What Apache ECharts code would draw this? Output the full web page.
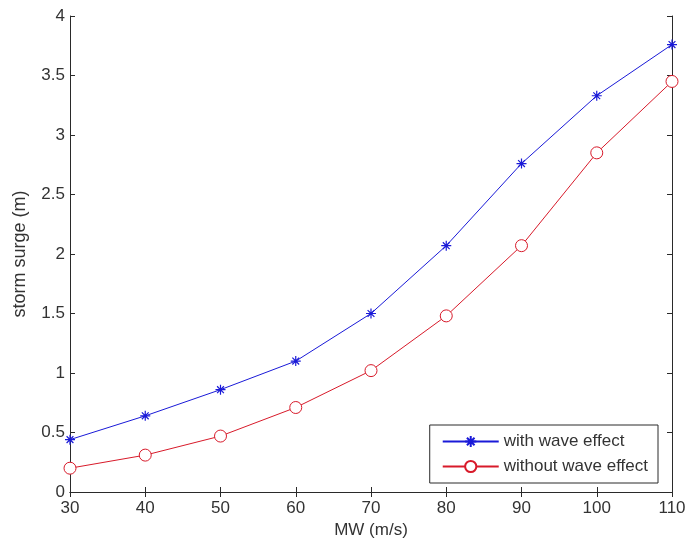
<!DOCTYPE html>
<html><head><meta charset="utf-8">
<script src="https://cdn.jsdelivr.net/npm/echarts@6/dist/echarts.min.js"></script>
<style>html,body{margin:0;padding:0;background:#fff}#c{width:689px;height:548px}</style>
</head><body><div id="c"></div>
<script>
const windSpeeds = [30, 40, 50, 60, 70, 80, 90, 100, 110];
const withWave = [0.44, 0.64, 0.86, 1.10, 1.50, 2.07, 2.76, 3.33, 3.76];
const withoutWave = [0.20, 0.31, 0.47, 0.71, 1.02, 1.48, 2.07, 2.85, 3.45];
const seriesNames = ['with wave effect', 'without wave effect'];
const xTitle = 'MW (m/s)';
const yTitle = 'storm surge (m)';

const font = 'Liberation Sans, Arial, sans-serif';
const axisCol = '#2a2a2a';
const textCol = '#333';
const blue = '#1a1ad8';
const red = '#d81a2a';
const star = 'path://M0,5L10,5M5,0L5,10M1.6,1.6L8.4,8.4M8.4,1.6L1.6,8.4';
const ring = 'path://M10,5A5,5 0 1 1 0,5A5,5 0 1 1 10,5Z';
const chart = echarts.init(document.getElementById('c'));
const tickCommon = {show: true, inside: true, length: 5, lineStyle: {color: axisCol}};
chart.setOption({
  backgroundColor: '#fff',
  animation: false,
  grid: {left: 70, right: 17, top: 16, bottom: 56, show: false},
  legend: {
    show: true,
    right: 31, bottom: 65,
    orient: 'vertical',
    backgroundColor: '#fff',
    borderColor: axisCol, borderWidth: 1, borderRadius: 0,
    padding: [8, 10, 8, 12],
    itemGap: 8,
    itemWidth: 56, itemHeight: 14,
    textStyle: {fontFamily: font, fontSize: 17, color: textCol},
    data: seriesNames
  },
  xAxis: [{
    type: 'value', min: 30, max: 110, interval: 10,
    name: xTitle, nameLocation: 'middle', nameGap: 30,
    nameTextStyle: {fontFamily: font, fontSize: 17, color: textCol},
    axisLine: {show: true, onZero: false, lineStyle: {color: axisCol}},
    axisTick: tickCommon,
    axisLabel: {fontFamily: font, fontSize: 17, color: textCol, margin: 8},
    splitLine: {show: false}
  }, {
    type: 'value', min: 30, max: 110, interval: 10, position: 'top',
    axisLine: {show: true, lineStyle: {color: axisCol}},
    axisTick: tickCommon, axisLabel: {show: false}, splitLine: {show: false}
  }],
  yAxis: [{
    type: 'value', min: 0, max: 4, interval: 0.5,
    name: yTitle, nameLocation: 'middle', nameGap: 41, nameRotate: 90,
    nameTextStyle: {fontFamily: font, fontSize: 18, color: textCol},
    axisLine: {show: true, onZero: false, lineStyle: {color: axisCol}},
    axisTick: tickCommon,
    axisLabel: {fontFamily: font, fontSize: 17, color: textCol, margin: 5},
    splitLine: {show: false}
  }, {
    type: 'value', min: 0, max: 4, interval: 0.5, position: 'right',
    axisLine: {show: true, lineStyle: {color: axisCol}},
    axisTick: tickCommon, axisLabel: {show: false}, splitLine: {show: false}
  }],
  series: [{
    name: seriesNames[0], type: 'line',
    data: windSpeeds.map((x, i) => [x, withWave[i]]),
    symbol: star, symbolSize: 10, clip: false,
    itemStyle: {color: blue, borderColor: blue, borderWidth: 1.2},
    lineStyle: {color: blue, width: 1},
    z: 3
  }, {
    name: seriesNames[1], type: 'line',
    data: windSpeeds.map((x, i) => [x, withoutWave[i]]),
    symbol: ring, symbolSize: 12, clip: false,
    itemStyle: {color: '#fff', borderColor: red, borderWidth: 1},
    lineStyle: {color: red, width: 1},
    z: 2
  }]
});
</script></body></html>
